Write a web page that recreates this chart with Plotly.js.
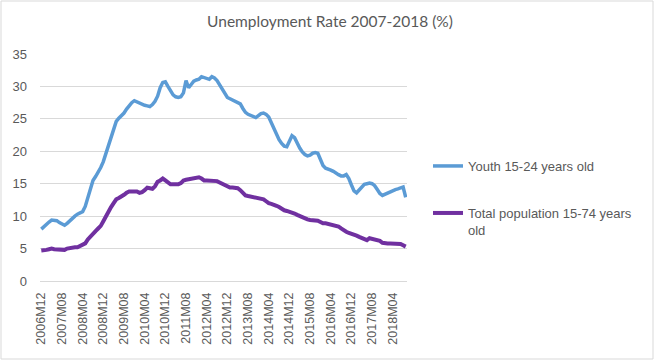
<!DOCTYPE html>
<html>
<head>
<meta charset="utf-8">
<script src="https://cdn.plot.ly/plotly-3.0.1.min.js"></script>
<style>html,body{margin:0;padding:0;background:#fff;}#chart{width:660px;height:361px;}</style>
</head>
<body>
<div id="chart"></div>
<script>
// Monthly series 2006M12 .. 2018M09
var startYear = 2006, startMonth = 12;
var youth = [
 8.0, 8.4, 8.8, 9.1, 9.4, 9.4, 9.3, 9.0, 8.8, 8.6,
 8.9, 9.3, 9.7,10.0,10.3,10.5,10.7,11.5,12.8,14.5,
15.5,16.1,16.7,17.5,18.4,19.7,21.0,22.3,23.6,24.6,
25.1,25.5,25.9,26.5,27.1,27.5,27.8,27.6,27.4,27.2,
27.1,27.0,26.9,27.2,27.7,28.5,29.8,30.6,30.7,30.0,
29.2,28.7,28.4,28.3,28.4,29.0,30.9,29.8,30.3,30.8,
31.0,31.1,31.5,31.4,31.2,31.1,31.5,31.3,30.9,30.3,
29.6,28.9,28.3,28.1,27.9,27.8,27.6,27.3,26.6,26.0,
25.7,25.5,25.3,25.2,25.5,25.8,25.9,25.7,25.3,24.4,
23.4,22.5,21.8,21.2,20.8,20.7,21.6,22.4,22.1,21.2,
20.5,19.9,19.5,19.3,19.4,19.7,19.8,19.7,18.8,17.8,
17.4,17.3,17.1,16.9,16.6,16.4,16.2,16.2,16.4,15.8,
14.8,13.9,13.6,14.1,14.6,14.9,15.0,15.1,15.0,14.7,
14.1,13.5,13.2,13.4,13.5,13.7,13.9,14.1,14.2,14.3,
14.5,12.9];
var total = [
 4.7, 4.7, 4.8, 4.9, 5.0, 4.9, 4.9, 4.8, 4.8, 4.8,
 5.0, 5.1, 5.2, 5.2, 5.2, 5.4, 5.5, 5.8, 6.4, 6.9,
 7.3, 7.7, 8.1, 8.5, 9.2,10.0,10.8,11.4,12.0,12.6,
12.8,13.0,13.3,13.6,13.8,13.8,13.8,13.8,13.6,13.7,
14.0,14.4,14.3,14.2,14.6,15.3,15.5,15.8,15.5,15.1,
14.9,14.9,14.9,14.9,15.1,15.5,15.6,15.7,15.8,15.8,
15.9,16.0,15.8,15.5,15.5,15.5,15.5,15.5,15.4,15.2,
15.0,14.7,14.5,14.4,14.4,14.4,14.3,14.0,13.5,13.2,
13.1,13.0,12.9,12.9,12.8,12.7,12.6,12.3,12.0,11.9,
11.8,11.6,11.4,11.1,10.9,10.8,10.7,10.6,10.4,10.2,
10.0, 9.8, 9.7, 9.5, 9.4, 9.4, 9.4, 9.3, 9.1, 8.9,
 8.9, 8.8, 8.8, 8.7, 8.6, 8.4, 8.1, 7.8, 7.6, 7.4,
 7.3, 7.2, 7.0, 6.8, 6.6, 6.4, 6.3, 6.6, 6.5, 6.5,
 6.4, 6.2, 5.9, 5.8, 5.8, 5.8, 5.8, 5.8, 5.8, 5.7,
 5.5, 5.3];
var tickLabels = ["2006M12","2007M08","2008M04","2008M12","2009M08","2010M04",
 "2010M12","2011M08","2012M04","2012M12","2013M08","2014M04","2014M12",
 "2015M08","2016M04","2016M12","2017M08","2018M04"];
var seriesNames = ["Youth 15-24 years old", "Total population 15-74 years<br>old"];

var months = [];
for (var i = 0; i < youth.length; i++) {
  var m = startMonth - 1 + i;
  var y = startYear + Math.floor(m / 12);
  var mm = (m % 12) + 1;
  months.push(y + "M" + (mm < 10 ? "0" + mm : "" + mm));
}

var font = "Liberation Sans, Arial, sans-serif";
var grey = "#595959";

var traces = [
  {x: months, y: youth, type: "scatter", mode: "lines", name: seriesNames[0],
   line: {color: "#5B9BD5", width: 3.5}, legend: "legend"},
  {x: months, y: total, type: "scatter", mode: "lines", name: seriesNames[1],
   line: {color: "#7030A0", width: 4}, legend: "legend2"}
];

var L = 40, R = 407, T = 54, B = 281, W = 660, H = 361;
var pw = R - L, ph = B - T;

var layout = {
  width: W, height: H,
  margin: {l: L, r: W - R, t: T, b: H - B, pad: 0},
  paper_bgcolor: "#fff", plot_bgcolor: "#fff",
  font: {family: font, color: grey, size: 13},
  title: {text: "Unemployment Rate 2007-2018 (%)", font: {family: "Lato, " + font, size: 15.5, color: grey},
          x: 0.5, xref: "container", xanchor: "center", y: 1 - 22 / H, yanchor: "middle"},
  xaxis: {type: "category", categoryorder: "array", categoryarray: months,
          range: [-0.5, months.length - 0.5], tickmode: "array", tickvals: tickLabels, ticktext: tickLabels,
          tickangle: -90, tickfont: {family: font, size: 12.5, color: grey},
          showgrid: false, showline: false, zeroline: false, ticks: "", ticklabelstandoff: 8, fixedrange: true},
  yaxis: {range: [0, 35], dtick: 5, tick0: 0, tickfont: {family: font, size: 13, color: grey},
          showgrid: true, gridcolor: "#d9d9d9", gridwidth: 1, zeroline: true, zerolinecolor: "#d9d9d9",
          zerolinewidth: 1, showline: false, ticks: "", ticklabelstandoff: 12, fixedrange: true},
  showlegend: true,
  legend: {x: (428 - L) / pw, xanchor: "left", y: (B - 166) / ph, yanchor: "middle",
           font: {family: font, size: 13, color: grey}, bgcolor: "rgba(0,0,0,0)", borderwidth: 0,
           itemwidth: 30},
  legend2: {x: (428 - L) / pw, xanchor: "left", y: (B - 198) / ph, yanchor: "top", valign: "top",
           font: {family: font, size: 13, color: grey}, bgcolor: "rgba(0,0,0,0)", borderwidth: 0,
           itemwidth: 30},
  shapes: [{type: "rect", xref: "paper", yref: "paper",
            x0: (1 - L) / pw, x1: (653 - L) / pw, y0: (B - 359) / ph, y1: (B - 1) / ph,
            line: {color: "#d9d9d9", width: 1}, fillcolor: "rgba(0,0,0,0)", layer: "below"}]
};

Plotly.newPlot("chart", traces, layout, {displayModeBar: false, staticPlot: true});
</script>
</body>
</html>
